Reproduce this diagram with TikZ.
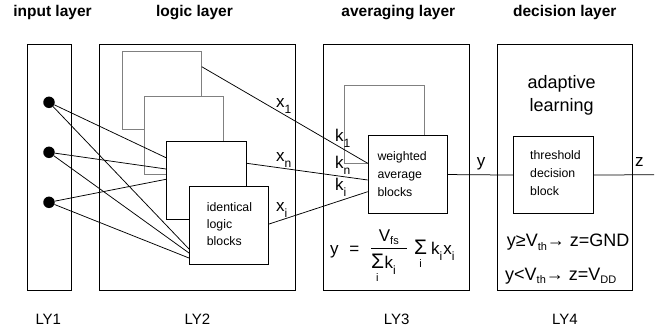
\documentclass[tikz,border=0pt]{standalone}
\usepackage{fontspec}
\setmainfont{Liberation Sans}
\usetikzlibrary{calc}
\pgfdeclarelayer{back}
\pgfdeclarelayer{mid}
\pgfsetlayers{back,mid,main}
\newcommand\fsz[1]{\fontsize{#1}{#1}\selectfont}
\newcommand\sub[1]{\raisebox{-3.5pt}{\fsz{11}#1}}
\newcommand\lsub[1]{\raisebox{-6pt}{\fsz{12}#1}}
\newcommand\bigsum{{\fsz{21}Σ}}
\begin{document}
\begin{tikzpicture}[x=1pt,y=-1pt,
  layer/.style={draw, line width=0.9pt, inner sep=0, anchor=north west},
  box/.style={draw, line width=0.8pt, inner sep=0, anchor=north west, fill=white},
  ghost/.style={draw=gray, line width=0.7pt, inner sep=0, anchor=north west, fill=white},
  dot/.style={circle, fill=black, inner sep=0, minimum size=11.5pt},
  wire/.style={line width=0.75pt},
  title/.style={font=\fsz{15.5}\bfseries, anchor=base, inner sep=0},
  lbl/.style={font=\fsz{15}, anchor=base, inner sep=0},
  blk/.style={font=\fsz{12.3}, anchor=base west, inner sep=0},
  sym/.style={font=\fsz{17}, anchor=base west, inner sep=0},
  eq/.style={font=\fsz{18}, anchor=base west, inner sep=0}]
\useasboundingbox (0,0) rectangle (671,329);

% titles
\node[title] (t1) at (52.5,16.7) {input layer};
\node[title] (t2) at (194.5,16.7) {logic layer};
\node[title] (t3) at (398.3,16.7) {averaging layer};
\node[title] (t4) at (564.8,16.7) {decision layer};

\begin{pgfonlayer}{back}
% layer boxes
\node[layer, minimum width=44.3pt, minimum height=246pt] (L1) at (26.7,44) {};
\node[layer, minimum width=195.7pt, minimum height=246pt] (L2) at (99.3,44) {};
\node[layer, minimum width=145.7pt, minimum height=246pt] (L3) at (323.3,44) {};
\node[layer, minimum width=134.7pt, minimum height=246pt] (L4) at (497,44) {};
% back logic blocks
\node[ghost, minimum width=79.3pt, minimum height=78.3pt] (B1) at (121.7,51) {};
\node[ghost, minimum width=79.3pt, minimum height=78.3pt] (B2) at (144,96) {};
\node[ghost, minimum width=80pt, minimum height=78.3pt] (G) at (344.3,85) {};
\end{pgfonlayer}

% bottom labels
\node[lbl] (ly1) at (48.3,324) {LY1};
\node[lbl] (ly2) at (197.5,324) {LY2};
\node[lbl] (ly3) at (396.7,324) {LY3};
\node[lbl] (ly4) at (565,324) {LY4};

% input dots
\node[dot] (d1) at (49,102.3) {};
\node[dot] (d2) at (49,152.3) {};
\node[dot] (d3) at (49,202.3) {};

% front logic blocks
\node[box, minimum width=80pt, minimum height=78.3pt] (B3) at (166,141) {};
\node[box, minimum width=79.3pt, minimum height=78.3pt] (B4) at (189,186) {};
\node[blk] (b4a) at (206.7,211.7) {identical};
\node[blk] (b4b) at (206.7,228) {logic};
\node[blk] (b4c) at (206.7,245.7) {blocks};

% weighted block
\node[box, minimum width=79pt, minimum height=78.3pt] (W) at (367.7,135) {};
\node[blk] (wa) at (377.3,160) {weighted};
\node[blk] (wb) at (377.3,178) {average};
\node[blk] (wc) at (377.3,196) {blocks};

\begin{pgfonlayer}{mid}
\draw[wire] (d1) -- ($(B3.north west)+(0,16.7)$);
\draw[wire] (d2) -- ($(B3.north west)+(0,28)$);
\draw[wire] (d3) -- ($(B3.north west)+(0,38.3)$);
\draw[wire] (d1) -- ($(B4.north west)+(0,63)$);
\draw[wire] (d2) -- ($(B4.north west)+(0,67)$);
\draw[wire] (d3) -- ($(B4.north west)+(0,72)$);
\draw[wire] ($(B1.north east)+(0,15.7)$) -- ($(W.north west)+(0,28.3)$);
\draw[wire] ($(B3.north east)+(0,22.3)$) -- ($(W.north west)+(0,45)$);
\draw[wire] ($(B4.north east)+(0,38)$) -- ($(W.north west)+(0,56.7)$);
\end{pgfonlayer}

% x and k labels
\node[sym] (x1) at (276,107) {x\lsub{1}};
\node[sym] (xn) at (276,161) {x\lsub{n}};
\node[sym] (xi) at (276,211) {x\lsub{i}};
\node[sym] (k1) at (335,141.7) {k\lsub{1}};
\node[sym] (kn) at (335,168.3) {k\lsub{n}};
\node[sym] (ki) at (335,190) {k\lsub{i}};

% formula
\node[sym] (fy) at (330,254) {y};
\node[sym, anchor=base] (feq) at (354.3,254) {=};
\node[fill=black, inner sep=0, minimum width=35.7pt, minimum height=0.8pt] (bar) at (388.8,248) {};
\node[sym, anchor=base] (num) at (388.8,241) {V\sub{fs}};
\node[sym] (den) at (371,268) {\bigsum\kern0.5pt k\lsub{i}};
\node[font=\fsz{11}, anchor=base, inner sep=0] (di) at (377.3,281) {i};
\node[sym, anchor=base] (s2) at (420.7,254) {\bigsum};
\node[font=\fsz{11}, anchor=base, inner sep=0] (s2i) at (420.7,267) {i};
\node[sym] (kx) at (431,254) {k\lsub{i}\kern1pt x\lsub{i}};

% decision layer
\node[font=\fsz{18}, anchor=base, inner sep=0] (ad1) at (561.7,88.3) {adaptive};
\node[font=\fsz{18}, anchor=base, inner sep=0] (ad2) at (561.7,111.5) {learning};
\node[box, minimum width=80pt, minimum height=77.3pt] (T) at (513.3,136) {};
\node[blk] (ta) at (530,159.3) {threshold};
\node[blk] (tb) at (530,177.3) {decision};
\node[blk] (tc) at (530,195) {block};
\coordinate (zend) at (654,174.7);
\draw[wire] (W.east) -- (T.west);
\draw[wire] (T.east) -- (zend);
\node[sym] (ylab) at (476.7,166) {y};
\node[sym] (zlab) at (635,166.7) {z};
\node[eq] (e1) at (506.7,246.7) {y≥V\sub{th}→ z=GND};
\node[eq] (e2) at (505,280) {y<V\sub{th}→ z=V\sub{DD}};
\end{tikzpicture}
\end{document}
